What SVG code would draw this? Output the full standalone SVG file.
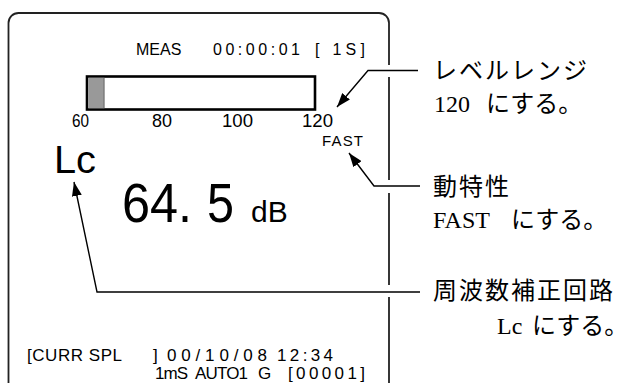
<svg xmlns="http://www.w3.org/2000/svg" width="636" height="383" viewBox="0 0 636 383">
<defs>
<marker id="ah" viewBox="0 0 14 10" refX="14" refY="5" markerWidth="14" markerHeight="10" markerUnits="userSpaceOnUse" orient="auto">
<path d="M0,0 L14,5 L0,10 z" fill="#000"/>
</marker>
<style>
.frame{fill:none;stroke:#222;stroke-width:1.8}
.lead{fill:none;stroke:#000;stroke-width:1.4;marker-end:url(#ah)}
.scr{font-family:"Liberation Sans",Arial,sans-serif;fill:#000}
.note{font-family:"Liberation Serif","Noto Sans CJK JP",serif;font-size:24px;fill:#000}
.jp{letter-spacing:2px}
</style>
</defs>
<rect width="636" height="383" fill="#fff"/>
<g id="screen">
<path class="frame" d="M8.5,400 V23 A10,10 0 0 1 18.5,13 H379 A10,10 0 0 1 389,23 V65 M389,77 V180 M389,193 V285 M389,297 V400"/>
<text class="scr" font-size="16" y="55"><tspan x="136">MEAS</tspan><tspan x="213" textLength="87" lengthAdjust="spacing">00:00:01</tspan><tspan x="315" textLength="50" lengthAdjust="spacing">[ 1S]</tspan></text>
</g>
<g id="bar">
<rect x="87" y="76.5" width="228" height="33" fill="#fff" stroke="#000" stroke-width="2.6"/>
<rect x="88.3" y="77.8" width="15.5" height="30.4" fill="#999"/>
<line x1="104" y1="77.8" x2="104" y2="108.2" stroke="#666" stroke-width="1.2"/>
<text class="scr" font-size="19" y="127"><tspan x="72" textLength="17" lengthAdjust="spacingAndGlyphs">60</tspan><tspan x="152" textLength="20" lengthAdjust="spacingAndGlyphs">80</tspan><tspan x="222" textLength="31" lengthAdjust="spacingAndGlyphs">100</tspan><tspan x="302" textLength="31" lengthAdjust="spacingAndGlyphs">120</tspan></text>
</g>
<g id="fast">
<text class="scr" font-size="15" x="322" y="146" textLength="41" lengthAdjust="spacing">FAST</text>
</g>
<g id="lc">
<text class="scr" font-size="39" x="54" y="173" textLength="42" lengthAdjust="spacingAndGlyphs">Lc</text>
</g>
<g id="value">
<text class="scr" font-size="56" y="222"><tspan x="122" textLength="70" lengthAdjust="spacingAndGlyphs">64.</tspan><tspan x="207" textLength="27" lengthAdjust="spacingAndGlyphs">5</tspan></text>
<text class="scr" font-size="30" x="251" y="222">dB</text>
</g>
<g id="status">
<text class="scr" font-size="17" y="361"><tspan x="27" textLength="95" lengthAdjust="spacing">[CURR SPL</tspan><tspan x="153">]</tspan><tspan x="167" textLength="100" lengthAdjust="spacing">00/10/08</tspan><tspan x="277" textLength="56" lengthAdjust="spacing">12:34</tspan></text>
<text class="scr" font-size="17" y="379"><tspan x="155" textLength="33" lengthAdjust="spacing">1mS</tspan><tspan x="195" textLength="53" lengthAdjust="spacing">AUTO1</tspan><tspan x="258">G</tspan><tspan x="288" textLength="77" lengthAdjust="spacing">[00001]</tspan></text>
</g>
<g id="connectors">
<path class="lead" d="M418,70.5 H368 L337,107"/>
<path class="lead" d="M420,186 H374 L349,153"/>
<path class="lead" d="M420,292 H97 L74,182"/>
</g>
<g id="note-range">
<text class="note jp" x="433" y="79">レベルレンジ</text>
<text class="note" y="112"><tspan x="434">120</tspan><tspan x="486">にする。</tspan></text>
</g>
<g id="note-speed">
<text class="note jp" x="433" y="195">動特性</text>
<text class="note" y="228"><tspan x="433">FAST</tspan><tspan x="511">にする。</tspan></text>
</g>
<g id="note-weight">
<text class="note jp" x="433" y="299">周波数補正回路</text>
<text class="note" y="334"><tspan x="497">Lc</tspan><tspan x="532">にする。</tspan></text>
</g>
</svg>
